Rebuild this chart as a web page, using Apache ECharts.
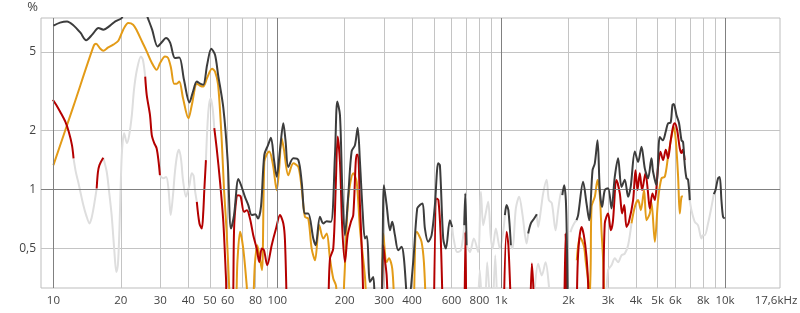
<!DOCTYPE html>
<html><head><meta charset="utf-8">
<script src="https://cdn.jsdelivr.net/npm/echarts@6/dist/echarts.min.js"></script>
<style>html,body{margin:0;padding:0;background:#fff}#c{width:800px;height:313px}</style>
</head><body><div id="c"></div>
<script>
// Frequency axis (Hz)
const xGridValues = [20,30,40,50,60,70,80,90,100,200,300,400,500,600,700,800,900,1000,2000,3000,4000,5000,6000,7000,8000,9000,10000];
const xLabelValues = [10,20,30,40,50,60,80,100,200,300,400,600,800,1000,2000,3000,4000,5000,6000,8000,10000,17600];
const xDecades = [10,100,1000,10000];
// Distortion axis (%)
const yTickValues = [0.5,1,2,5];
const yRefLine = 1;

// total (dark grey)
const thd = [[10,6.81],[10.7,7.06],[11.5,7.16],[12.2,6.89],[13.2,6.27],[14.0,5.74],[14.9,6.13],[15.9,6.63],[16.7,6.50],[17.9,6.81],[18.9,7.16],[20.2,7.45],[20.7,8.2],[23.2,9.0],[25.5,8.3],[26.4,7.45],[27.6,6.50],[29.2,5.34],[30.6,5.64],[31.8,5.89],[33.2,5.58],[34.9,4.66],[36.5,4.69],[38.3,3.61],[40.5,2.77],[42.0,3.14],[43.7,3.54],[45.2,3.45],[46.7,3.41],[48.6,4.31],[50.7,5.20],[52.7,4.84],[54.4,3.83],[57.4,2.60],[60,1.41],[62.1,0.632],[64.1,0.74],[67.0,1.13],[68.9,1.05],[71.7,0.917],[74.2,0.832],[76.9,0.74],[79.7,0.748],[82.0,0.711],[84.6,0.822],[87.5,1.50],[90.9,1.68],[93.7,1.83],[96.7,1.41],[99.4,1.16],[102.8,1.59],[106.4,2.17],[108.8,1.78],[112,1.30],[117.9,1.44],[124.2,1.41],[128.5,1.09],[132.9,0.754],[137.5,0.754],[144.8,0.562],[148.4,0.52],[155.1,0.725],[160.5,0.671],[166.2,0.689],[173.7,0.684],[181,1.50],[185.3,2.80],[190.5,2.39],[195.1,1.01],[200.5,0.585],[207.5,0.935],[214.8,1.56],[222.3,1.68],[228.6,2.06],[234,1.38],[240.6,0.769],[246.4,0.562],[251.5,0.578],[259.4,0.338],[268.3,0.358],[275.7,0.25],[290,0.25],[299.5,1.05],[307.9,0.832],[318.6,0.62],[326.2,0.684],[335.3,0.585],[346.9,0.49],[359.2,0.51],[367.8,0.446],[384.4,0.25],[404.6,0.427],[421.7,0.80],[433.5,0.832],[445.7,0.848],[456.5,0.632],[472.2,0.541],[489,0.585],[505.8,0.832],[523.3,1.357],[532.5,1.33],[551,0.562],[566.5,0.50],[590,0.697],[604,0.644],null,
[683.9,0.657],[690.9,0.954],[701,0.52],null,
[1039,0.739],[1057,0.832],[1077,0.784],[1105,0.52],null,
[1320,0.596],[1357,0.671],[1404,0.711],[1443,0.748],null,
[1876,0.935],[1911,1.05],[1945,0.882],[1965,0.551],[1986,0.25],null,
[2171,0.697],[2207,0.74],[2323,1.093],[2406,0.848],[2472,0.697],[2559,1.25],[2620,1.357],[2694,1.78],[2758,0.992],[2824,0.815],[2903,0.992],[3004,1.015],[3111,0.80],[3218,1.16],[3329,1.44],[3447,1.03],[3566,1.12],[3690,0.917],[3793,1.04],[3954,1.56],[4089,1.38],[4235,1.65],[4381,1.28],[4532,1.14],[4692,1.44],[4771,1.23],[4940,1.05],[5110,1.85],[5272,1.78],[5436,1.97],[5566,2.17],[5707,2.18],[5825,2.69],[5902,2.72],[6067,2.39],[6232,2.17],[6389,1.78],[6495,1.74],[6609,1.33],[6726,1.14],[6837,1.12],[6957,0.882],null,
[8906,0.946],[9062,0.99],[9307,1.14],[9469,1.155],[9636,0.882],[9797,0.725],[9970,0.711]];

// 3rd harmonic (orange)
const h3 = [[10,1.33],[12.3,2.66],[15.1,5.34],[15.5,5.51],[16.2,5.20],[16.7,5.08],[17.5,5.26],[18.5,5.45],[19.5,5.71],[20.5,6.50],[21.6,7.03],[22.7,6.89],[23.6,6.42],[24.9,5.64],[26.1,5.04],[27.5,4.41],[28.9,4.06],[30,4.41],[31.5,4.75],[32.5,4.67],[33.5,4.16],[34.6,3.45],[35.5,3.45],[36.5,3.54],[37.9,2.92],[40.1,2.30],[41.6,2.72],[43.7,3.45],[45.2,3.37],[46.7,3.34],[48.6,3.70],[51.1,4.11],[52.7,3.97],[54.4,3.41],[56.5,1.75],[57.8,1.0],[59.4,0.608],[60.9,0.325],[61.5,0.25],[64.7,0.25],[66.4,0.436],[68.2,0.608],[69.6,0.551],[71.0,0.462],[73.0,0.325],[74.2,0.25],[77.1,0.25],[79.5,0.426],[81.4,0.52],[83.1,0.462],[85.4,0.388],[87.5,1.38],[89.5,1.50],[92.1,1.56],[95.7,1.33],[99.4,0.99],[101.8,1.25],[104.6,1.82],[107.1,1.59],[112,1.18],[117.9,1.357],[124.2,1.30],[128.5,1.01],[132.9,0.725],[137.5,0.711],[142.4,0.50],[147.4,0.436],[154,0.657],[160.5,0.562],[166.2,0.596],[171.9,0.445],[177.8,0.352],[182.8,0.325],[187.2,0.25],[195,0.25],[199.1,0.344],[207.5,0.90],[218.4,1.21],[226.2,1.093],[234,0.632],[246.4,0.358],[250,0.25],null,
[293.4,0.25],[297.4,0.596],[307.9,0.427],[315.3,0.446],[326.2,0.395],[333,0.25],null,
[407.6,0.25],[419,0.608],[429,0.585],[441,0.541],[451.7,0.427],[461,0.25],null,
[2177,0.436],[2245,0.571],[2293,0.551],[2347,0.51],[2388,0.426],[2446,0.344],[2476,0.25],[2510,0.4],[2533,0.815],[2620,0.917],[2694,1.116],[2758,0.935],[2806,0.62],[2854,0.436],[2889,0.25],null,
[3821,0.671],[3954,0.815],[4089,0.882],[4205,0.784],[4348,0.992],[4458,0.697],[4611,0.754],[4692,0.864],[4857,0.541],[5021,0.882],[5201,1.14],[5381,1.16],[5566,1.47],[5765,1.85],[5902,2.085],[6026,1.78],[6171,1.16],[6278,0.754],[6389,0.917],[6480,0.924]];

// 2nd harmonic (red)
const h2 = [[9.94,2.86],[10.3,2.69],[10.7,2.49],[11.3,2.21],[11.7,1.97],[12.1,1.68],[12.3,1.44],null,
[15.6,1.01],[15.8,1.22],[16.05,1.33],[16.7,1.45],null,
[25.7,3.75],[26.1,3.03],[27.0,2.39],[27.5,1.89],[28.2,1.72],[28.9,1.62],[29.5,1.38],[29.9,1.18],null,
[43.7,0.864],[44.9,0.671],[46.0,0.632],[46.7,0.766],[47.2,0.99],[48.0,1.41],null,
[52.3,2.05],[53.6,1.62],[55.5,1.093],[57.4,0.684],[59.0,0.353],[59.9,0.25],[62.8,0.25],[64.3,0.684],[66.6,0.935],[68.5,0.924],[71.0,0.769],[73.2,0.784],[75.5,0.711],[78.1,0.585],[80.9,0.50],[83.1,0.427],[85.2,0.50],[87.2,0.49],[90.2,0.411],[94.4,0.52],[98.7,0.632],[102.8,0.74],[106.4,0.671],[108.2,0.551],[110.2,0.25],null,
[169.3,0.25],[171.9,0.445],[177.8,0.50],[182.3,1.01],[186.1,1.86],[190.5,1.38],[195.1,0.632],[200.5,0.427],[206.2,0.585],[213.3,0.684],[218.4,0.74],[226.2,1.50],[229.3,1.50],[234,0.832],[239.7,0.427],[242.6,0.25],null,
[293.4,0.25],[297.4,0.52],[302.6,0.436],[307.9,0.365],[312,0.25],null,
[500.9,0.25],[514.9,0.90],[524.4,0.882],[536.5,0.585],[547.6,0.25],null,
[686.5,0.25],[692.3,0.608],[698,0.25],null,
[1028,0.25],[1057,0.608],[1077,0.52],[1105,0.25],null,
[1350,0.25],[1371,0.42],[1391,0.325],[1400,0.25],null,
[1915,0.25],[1939,0.598],[1965,0.25],null,
[2177,0.25],[2207,0.471],[2285,0.644],[2340,0.585],[2406,0.453],[2446,0.331],[2460,0.25],null,
[2860,0.25],[2903,0.671],[3004,0.754],[3088,0.62],[3153,0.681],[3275,1.116],[3388,0.954],[3470,0.754],[3548,0.832],[3629,0.644],[3717,0.681],[3885,0.882],[3981,1.25],[4063,0.992],[4161,1.21],[4261,0.992],[4412,1.21],[4518,0.99],[4611,0.80],[4741,0.954],[4857,0.882],[5021,1.30],[5147,1.555],[5288,1.41],[5436,1.59],[5566,1.44],[5707,1.75],[5861,2.085],[5964,2.17],[6107,2.01],[6278,1.62],[6389,1.53],[6475,1.59],[6609,1.41]];

// faded (below noise) parts, light grey
const fadedH2 = [[12.3,1.44],[12.6,1.22],[12.9,1.093],[13.6,0.832],[14.0,0.74],[14.5,0.671],[14.8,0.714],[15.1,0.80],[15.6,1.01],null,
[16.7,1.45],[17.3,1.23],[17.7,0.99],[18.2,0.74],[18.7,0.49],[19.1,0.38],[19.4,0.411],[19.7,0.608],[20.2,1.50],[20.7,1.93],[21.3,1.72],[21.8,1.89],[22.4,2.39],[22.9,3.21],[23.6,4.06],[24.6,4.75],[25.1,4.57],[25.7,3.75],null,
[29.9,1.18],[31.0,1.14],[31.9,1.155],[32.7,0.99],[33.4,0.74],[34.2,0.935],[34.9,1.23],[35.7,1.50],[36.4,1.59],[37.2,1.41],[37.9,1.12],[39.1,0.917],[39.9,0.99],[40.5,1.05],[41.5,1.21],[42.3,1.17],[42.9,0.99],[43.7,0.864],null,
[48.0,1.41],[49.2,2.49],[50.4,2.91],[51.4,2.60],[52.3,2.05]];
const fadedThd = [[604,0.644],[615,0.551],[636,0.48],[661,0.49],[683.9,0.657],null,
[701,0.52],[725,0.48],[755,0.562],[789,0.48],[812,0.972],[831,0.657],[850,0.74],[875,0.865],[897,0.585],[915,0.50],[947,0.632],[987,0.50],[1021,0.608],[1039,0.739],null,
[1105,0.52],[1124,0.50],[1163,0.80],[1203,0.917],[1246,0.74],[1299,0.53],[1320,0.596],null,
[1443,0.748],[1463,0.644],[1504,0.784],[1540,0.954],[1595,1.12],[1633,0.882],[1684,0.85],[1750,0.62],[1797,0.784],[1861,0.992],[1876,0.935],null,
[2041,0.605],[2069,0.635],[2133,0.68],[2171,0.697],null,
[6957,0.882],[7079,0.784],[7325,0.684],[7577,0.657],[7845,0.562],[7950,0.585],[8117,0.585],[8397,0.671],[8699,0.815],[8906,0.946]];
const fadedH3 = [[787,0.25],[803,0.388],[820,0.25],null,
[850,0.25],[866,0.426],[893,0.25],null,
[920,0.25],[941,0.462],[960,0.25],null,
[1391,0.25],[1463,0.419],[1519,0.365],[1579,0.426],[1633,0.325],[1658,0.25],null,
[2934,0.25],[3004,0.388],[3111,0.411],[3218,0.446],[3329,0.426],[3447,0.462],[3566,0.471],[3690,0.52],[3821,0.671]];

const FONT = 'Open Sans';
const chart = echarts.init(document.getElementById('c'), null, {renderer:'canvas'});
function xFmt(v){
  const r = Math.round(v);
  if (r >= 17000) return '{m|17,6kHz}';
  if (r >= 1000) return Math.round(r/1000) + 'k';
  return String(r);
}
function yFmt(v){ return String(Math.round(v*10)/10).replace('.', ','); }
function line(name, data, color, z){
  return {name, type:'line', data, z, smooth:0.3, showSymbol:false, connectNulls:false,
    lineStyle:{color, width:2}, itemStyle:{color}, animation:false, silent:true, clip:true};
}
chart.setOption({
  animation:false,
  grid:{left:41, right:20, top:18, bottom:25, outerBoundsMode:'none', containLabel:false,
    show:true, borderColor:'#bdbdbd', borderWidth:1, backgroundColor:'transparent'},
  xAxis:{type:'log', logBase:10, min:8.8, max:17600,
    axisLine:{show:false}, axisTick:{show:false, customValues:xGridValues},
    splitLine:{show:true, lineStyle:{color:'#c4c4c4', width:1}},
    axisLabel:{customValues:xLabelValues, formatter:xFmt, color:'#444', fontFamily:FONT, fontSize:11.5, margin:7,
      showMinLabel:true, showMaxLabel:true,
      rich:{m:{color:'#444', fontFamily:FONT, fontSize:11.5, padding:[0,8,0,0]}}}},
  yAxis:{type:'log', logBase:10, min:0.315, max:7.45,
    name:'%', nameLocation:'end', nameGap:4, nameTextStyle:{color:'#444', fontFamily:FONT, fontSize:13, align:'right', verticalAlign:'bottom', padding:[0,3,0,0]},
    axisLine:{show:false}, axisTick:{show:false, customValues:yTickValues},
    splitLine:{show:true, lineStyle:{color:'#c4c4c4', width:1}},
    axisLabel:{customValues:yTickValues, formatter:yFmt, color:'#444', fontFamily:FONT, fontSize:12, margin:5}},
  series:[
    {type:'line', data:[], z:1, silent:true, animation:false,
      markLine:{silent:true, symbol:['none','none'], label:{show:false}, animation:false,
        lineStyle:{color:'#808080', width:1, type:'solid'},
        data: xDecades.map(v=>({xAxis:v})).concat([{yAxis:yRefLine}])}},
    line('fadedH3', fadedH3, '#dedede', 2),
    line('fadedThd', fadedThd, '#dedede', 2),
    line('fadedH2', fadedH2, '#dedede', 2),
    line('H3', h3, '#e39b17', 3),
    line('H2', h2, '#b40000', 4),
    line('THD', thd, '#3c3c3c', 5)
  ]
});
</script></body></html>
